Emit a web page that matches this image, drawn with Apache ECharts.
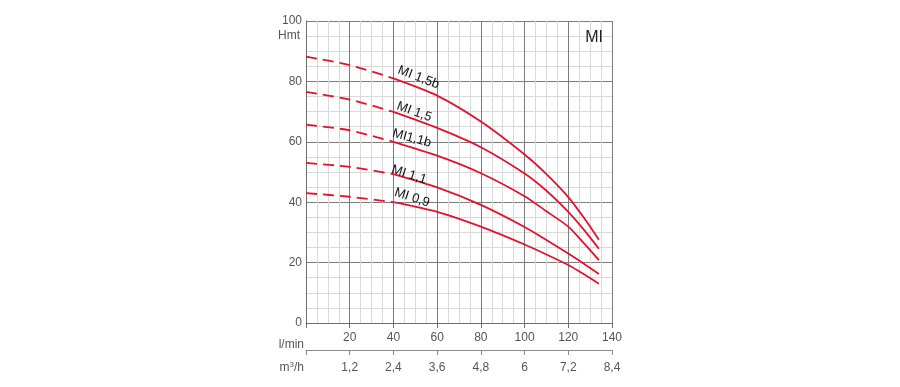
<!DOCTYPE html>
<html>
<head>
<meta charset="utf-8">
<script src="https://cdn.jsdelivr.net/npm/echarts@6/dist/echarts.min.js"></script>
<style>
html,body{margin:0;padding:0;background:#fff;}
#c{width:900px;height:387px;}
</style>
</head>
<body>
<div id="c"></div>
<script>
// Flow in l/min
const flowLmin = [0, 20, 40, 60, 80, 100, 110, 120, 127, 134];
// Head (Hmt) per pump model
const mi15b = [88.2, 85.4, 81.0, 75.3, 66.7, 55.8, 49.3, 41.7, 35.0, 27.6];
const mi15  = [76.5, 74.0, 69.9, 64.6, 58.2, 49.5, 43.8, 36.8, 31.0, 24.6];
const mi11b = [65.7, 63.8, 60.0, 55.4, 49.6, 42.0, 37.0, 31.9, 26.5, 20.8];
const mi11  = [53.0, 51.7, 49.3, 44.9, 39.1, 31.8, 27.5, 23.0, 19.7, 16.2];
const mi09  = [43.0, 41.8, 40.0, 36.8, 31.9, 26.0, 22.7, 19.2, 16.2, 13.0];
// Index where the dashed part ends (40 l/min)
const dashEnd = 2;
// Curve names and label anchors (l/min, Hmt)
const curveNames = ['MI 1,5b', 'MI 1,5', 'MI1,1b', 'MI 1,1', 'MI 0,9'];
const labelQ = [51.5, 49.5, 48.4, 47.1, 48.5];
const labelH = [81.3, 69.9, 61.2, 49.1, 41.5];
const labelRot = [-21, -20, -15, -18, -18];
// Tick labels of the m3/h axis (at 20, 40, ... 140 l/min)
const m3hLabels = ['1,2', '2,4', '3,6', '4,8', '6', '7,2', '8,4'];

const curves = [mi15b, mi15, mi11b, mi11, mi09];
const red = '#e3122e';
const font = '"Liberation Sans", Arial, sans-serif';

const series = [];
curves.forEach((vals, i) => {
  const pts = flowLmin.map((q, k) => [q, vals[k]]);
  series.push({
    type: 'line', xAxisIndex: 0, yAxisIndex: 0, smooth: 0.25, symbol: 'none',
    data: pts.slice(0, dashEnd + 1),
    lineStyle: { color: red, width: 1.8, type: [11, 6] }, z: 5, silent: true
  });
  series.push({
    type: 'line', xAxisIndex: 0, yAxisIndex: 0, smooth: 0.25, symbol: 'none',
    data: pts.slice(dashEnd),
    lineStyle: { color: red, width: 1.8 }, z: 5, silent: true
  });
});

const chart = echarts.init(document.getElementById('c'), null, { renderer: 'canvas' });
const option = {
  animation: false,
  backgroundColor: '#fff',
  grid: { left: 306, right: 288, top: 21, bottom: 64, containLabel: false },
  xAxis: [
    {
      type: 'value', min: 0, max: 140, interval: 20, position: 'bottom',
      axisLine: { show: true, lineStyle: { color: '#6e6e6e', width: 1 } },
      axisTick: { show: true, length: 5, lineStyle: { color: '#6e6e6e' } },
      axisLabel: { color: '#555', fontSize: 12, fontFamily: font, margin: 9,
        formatter: v => (v === 0 ? '' : String(v)) },
      splitLine: { show: true, lineStyle: { color: '#7c7c7c', width: 1 } },
      minorTick: { show: false, splitNumber: 4 },
      minorSplitLine: { show: true, lineStyle: { color: '#d9d9d9', width: 1 } }
    },
    {
      type: 'value', min: 0, max: 140, interval: 20, position: 'bottom', offset: 27,
      axisLine: { show: true, onZero: false, lineStyle: { color: '#8a8a8a', width: 1 } },
      axisTick: { show: true, length: 5, lineStyle: { color: '#8a8a8a' } },
      axisLabel: { color: '#555', fontSize: 12, fontFamily: font, margin: 12,
        formatter: v => { const i = Math.round(v / 20) - 1; return i >= 0 ? m3hLabels[i] : ''; } },
      splitLine: { show: false }
    }
  ],
  yAxis: {
    type: 'value', min: 0, max: 100, interval: 20,
    axisLine: { show: true, lineStyle: { color: '#6e6e6e', width: 1 } },
    axisTick: { show: false },
    axisLabel: { color: '#555', fontSize: 12, fontFamily: font, margin: 4,
      verticalAlign: 'middle', padding: [0, 0, 8, 0] },
    splitLine: { show: true, lineStyle: { color: '#7c7c7c', width: 1 } },
    minorTick: { show: false, splitNumber: 4 },
    minorSplitLine: { show: true, lineStyle: { color: '#d9d9d9', width: 1 } }
  },
  series: series
};
chart.setOption(option);

const graphics = [];
curveNames.forEach((name, i) => {
  const p = chart.convertToPixel({ gridIndex: 0 }, [labelQ[i], labelH[i]]);
  graphics.push({
    type: 'text', x: p[0], y: p[1], rotation: labelRot[i] * Math.PI / 180, z: 10,
    style: { text: name, fill: '#111', font: '13px ' + font, align: 'center', verticalAlign: 'middle' }
  });
});
const pTop = chart.convertToPixel({ gridIndex: 0 }, [140, 100]);
const pOrig = chart.convertToPixel({ gridIndex: 0 }, [0, 0]);
graphics.push({ type: 'text', x: pTop[0] - 9, y: pTop[1] + 17, z: 10,
  style: { text: 'MI', fill: '#222', font: '16px ' + font, align: 'right', verticalAlign: 'middle' } });
graphics.push({ type: 'text', x: pOrig[0] - 6, y: pTop[1] + 15, z: 10,
  style: { text: 'Hmt', fill: '#555', font: '12px ' + font, align: 'right', verticalAlign: 'middle' } });
graphics.push({ type: 'text', x: pOrig[0] - 2, y: pOrig[1] + 22, z: 10,
  style: { text: 'l/min', fill: '#555', font: '12px ' + font, align: 'right', verticalAlign: 'middle' } });
graphics.push({ type: 'text', x: pOrig[0] - 2, y: pOrig[1] + 45, z: 10,
  style: { rich: { a: { fill: '#555', font: '12px ' + font }, s: { fill: '#555', font: '8px ' + font, verticalAlign: 'top', padding: [0, 0, 6, 0] } },
    text: '{a|m}{s|3}{a|/h}', align: 'right', verticalAlign: 'middle' } });
chart.setOption({ graphic: graphics });
</script>
</body>
</html>
